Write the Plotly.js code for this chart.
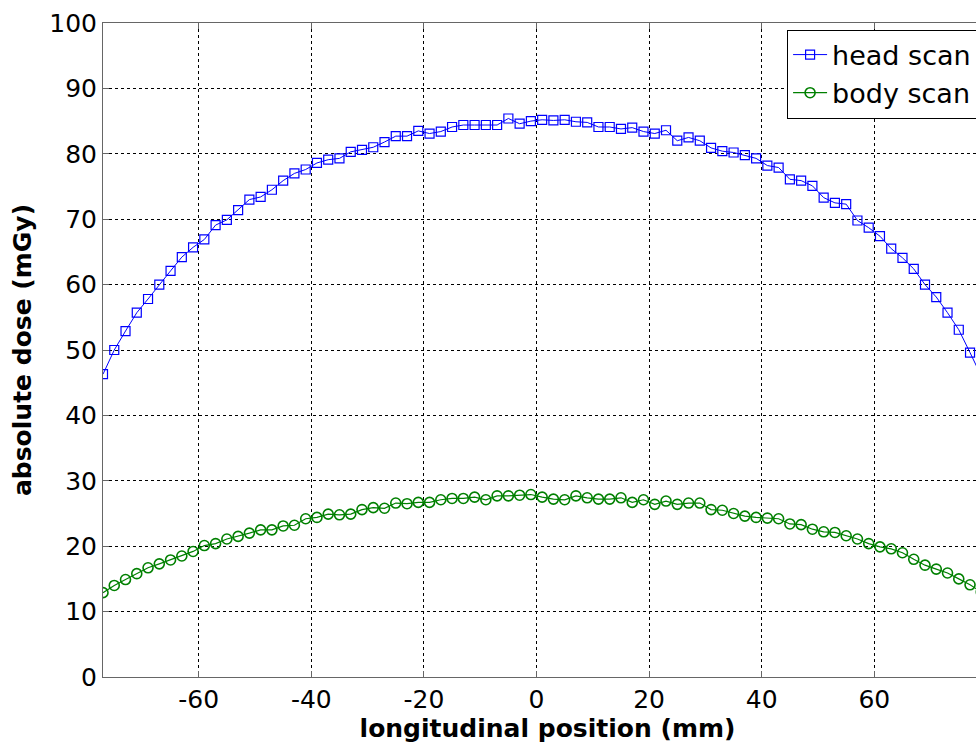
<!DOCTYPE html>
<html>
<head>
<meta charset="utf-8">
<script src="https://cdn.plot.ly/plotly-3.0.1.min.js"></script>
<style>
html,body{margin:0;padding:0;overflow:hidden;background:#fff;}
#chart{width:1000px;height:744px;}
</style>
</head>
<body>
<div id="chart"></div>
<script>
// longitudinal positions (mm)
const positions = [-77,-75,-73,-71,-69,-67,-65,-63,-61,-59,-57,-55,-53,-51,-49,-47,-45,-43,-41,-39,
  -37,-35,-33,-31,-29,-27,-25,-23,-21,-19,-17,-15,-13,-11,-9,-7,-5,-3,-1,
  1,3,5,7,9,11,13,15,17,19,21,23,25,27,29,31,33,35,37,39,
  41,43,45,47,49,51,53,55,57,59,61,63,65,67,69,71,73,75,77,79];

// head scan absolute dose (mGy)
const headScan = [46.3,50.0,52.9,55.7,57.8,60.0,62.1,64.2,65.7,66.9,69.1,69.9,71.4,73.0,73.4,74.5,75.9,77.0,77.6,78.6,
  79.1,79.3,80.3,80.6,81.0,81.8,82.7,82.7,83.5,83.1,83.4,84.1,84.4,84.4,84.4,84.4,85.4,84.6,85.0,
  85.2,85.1,85.2,84.9,84.8,84.1,84.1,83.8,84.0,83.4,83.1,83.6,82.0,82.5,82.0,80.9,80.4,80.2,79.8,79.3,
  78.2,77.9,76.1,75.9,75.1,73.3,72.5,72.3,69.8,68.7,67.4,65.5,64.1,62.4,60.0,58.1,55.7,53.1,49.6,46.0];

// body scan absolute dose (mGy)
const bodyScan = [12.9,14.0,14.9,15.8,16.7,17.3,17.9,18.5,19.2,20.1,20.4,21.1,21.5,22.0,22.5,22.5,23.1,23.2,24.2,24.4,
  24.9,24.8,24.9,25.6,25.9,25.8,26.6,26.5,26.7,26.7,27.1,27.3,27.3,27.5,27.1,27.7,27.7,27.8,27.9,
  27.5,27.2,27.1,27.7,27.4,27.2,27.2,27.4,26.7,27.1,26.4,26.9,26.4,26.6,26.6,25.6,25.5,25.0,24.6,24.4,
  24.3,24.2,23.4,23.3,22.6,22.2,22.1,21.6,21.1,20.4,19.9,19.6,19.0,18.0,17.1,16.5,15.9,15.0,14.1,13.0];

const seriesNames = ["head scan", "body scan"];
const xTicks = [-60,-40,-20,0,20,40,60];
const yTicks = [0,10,20,30,40,50,60,70,80,90,100];

const FONT = "DejaVu Sans, Verdana, sans-serif";

const traces = [
  {
    x: positions, y: headScan, name: seriesNames[0], type: "scatter", mode: "lines+markers",
    line: {color: "#0000ff", width: 1},
    marker: {symbol: "square-open", size: 9, color: "#0000ff", line: {width: 1.2, color: "#0000ff"}},
    cliponaxis: true
  },
  {
    x: positions, y: bodyScan, name: seriesNames[1], type: "scatter", mode: "lines+markers",
    line: {color: "#008000", width: 1.2},
    marker: {symbol: "circle-open", size: 10, color: "#008000", line: {width: 1.6, color: "#008000"}},
    cliponaxis: true
  }
];

const axisCommon = {
  showgrid: true, gridcolor: "#000", griddash: "dot", gridwidth: 1,
  zeroline: false, showline: true, linecolor: "#666", linewidth: 1, mirror: "ticks",
  ticks: "inside", ticklen: 6, tickcolor: "#666",
  tickfont: {family: FONT, size: 25, color: "#000"}
};

const layout = {
  width: 1000, height: 744,
  margin: {l: 103, r: 8, t: 23, b: 67},
  paper_bgcolor: "#fff", plot_bgcolor: "#fff",
  showlegend: true,
  legend: {
    x: 0.7695, y: 0.99, xanchor: "left", yanchor: "top",
    bgcolor: "#fff", bordercolor: "#000", borderwidth: 1,
    font: {family: FONT, size: 27, color: "#000"},
    itemwidth: 34,
    tracegroupgap: 0
  },
  xaxis: Object.assign({}, axisCommon, {
    range: [-77, 80.9], tickvals: xTicks, ticktext: xTicks.map(String),
    title: {text: "<b>longitudinal position (mm)</b>", font: {family: FONT, size: 25, color: "#000"}, standoff: 1}
  }),
  yaxis: Object.assign({}, axisCommon, {
    range: [0, 100], tickvals: yTicks, ticktext: yTicks.map(String),
    title: {text: "<b>absolute dose (mGy)</b>", font: {family: FONT, size: 25, color: "#000"}, standoff: 10}
  })
};

Plotly.newPlot("chart", traces, layout, {displayModeBar: false, staticPlot: true});
</script>
</body>
</html>
